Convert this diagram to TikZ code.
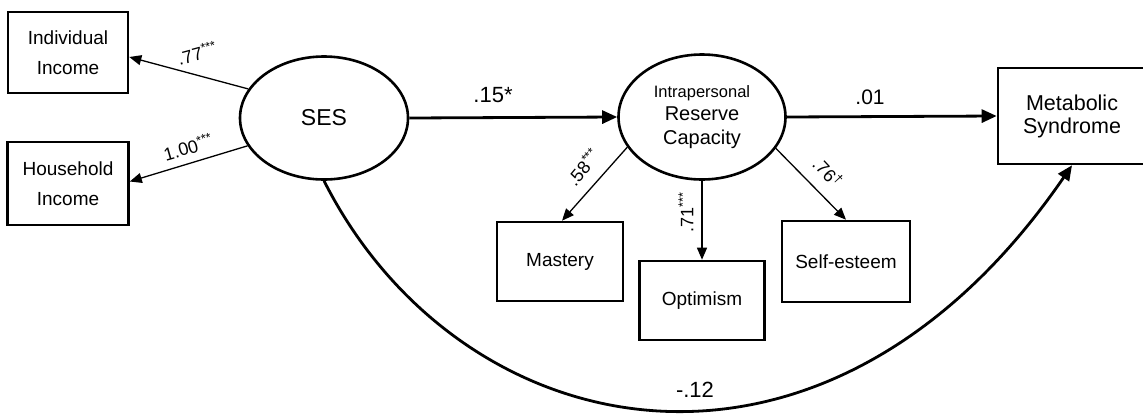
\documentclass[tikz,border=0pt]{standalone}
\usepackage{fontspec}
\setmainfont{Liberation Sans}
\usetikzlibrary{shapes.geometric,arrows.meta}
\begin{document}
\begin{tikzpicture}[x=1pt,y=-1pt,
  box/.style={draw,line width=2.6pt,rectangle,inner sep=0pt,align=center,font=\fontsize{19}{30}\selectfont},
  latent/.style={draw,line width=2.6pt,ellipse,inner sep=0pt,align=center},
  thin/.style={line width=1.3pt,-{Triangle[length=12pt,width=10pt]}},
  thick/.style={line width=2.8pt,-{Triangle[length=15pt,width=13pt]}},
  lab/.style={inner sep=0pt,font=\fontsize{18}{20}\selectfont},
  biglab/.style={inner sep=0pt,font=\fontsize{22}{24}\selectfont}]
\useasboundingbox (0,0) rectangle (1143,413);
\clip (0,0) rectangle (1143,413);

\node[box,minimum width=120pt,minimum height=81pt] (ind) at (68,52.5) {Individual\\Income};
\node[box,minimum width=121pt,minimum height=83pt] (hh) at (68,183.5) {Household\\Income};
\node[latent,minimum width=168pt,minimum height=123pt,font=\fontsize{23}{26}\selectfont] (ses) at (324,118) {SES};
\node[latent,minimum width=167pt,minimum height=125pt,font=\fontsize{20}{23.5}\selectfont] (irc) at (702,117) {{\fontsize{16.5}{23.5}\selectfont Intrapersonal}\\Reserve\\Capacity};
\node[box,minimum width=148pt,minimum height=96pt,font=\fontsize{21.5}{23}\selectfont] (met) at (1072,116) {Metabolic\\Syndrome};
\node[box,minimum width=126pt,minimum height=79pt] (mas) at (560,261.5) {Mastery};
\node[box,minimum width=125pt,minimum height=79pt] (opt) at (702,300.5) {Optimism};
\node[box,minimum width=128pt,minimum height=81pt] (sel) at (846,261.5) {Self-esteem};

\draw[thin] (ses.159) -- ([yshift=-4.5pt]ind.east);
\draw[thin] (ses.200) -- ([yshift=2pt]hh.east);
\draw[thick] (ses.east) -- (irc.west);
\draw[thick] (irc.east) -- (met.west);
\draw[thin] (irc.202) -- ([xshift=2pt]mas.north);
\draw[thin] (irc.south) -- (opt.north);
\draw[thin] (irc.337) -- (sel.north);
\draw[thick] (ses.south) .. controls (459,448) and (823,528) .. (met.south);

\node[lab,rotate=15] (l77) at (197,53) {.77\textsuperscript{***}};
\node[lab,rotate=16] (l100) at (188,147) {1.00\textsuperscript{***}};
\node[biglab] (l15) at (493,95) {.15*};
\node[biglab,font=\fontsize{21}{23}\selectfont] (l01) at (870,97) {.01};
\node[lab,rotate=50] (l58) at (583,167) {.58\textsuperscript{***}};
\node[lab,rotate=90] (l71) at (686,212) {.71\textsuperscript{***}};
\node[lab,rotate=-47] (l76) at (828,172) {.76\textsuperscript{†}};
\node[biglab] (l12) at (695,390) {-.12};
\end{tikzpicture}
\end{document}
